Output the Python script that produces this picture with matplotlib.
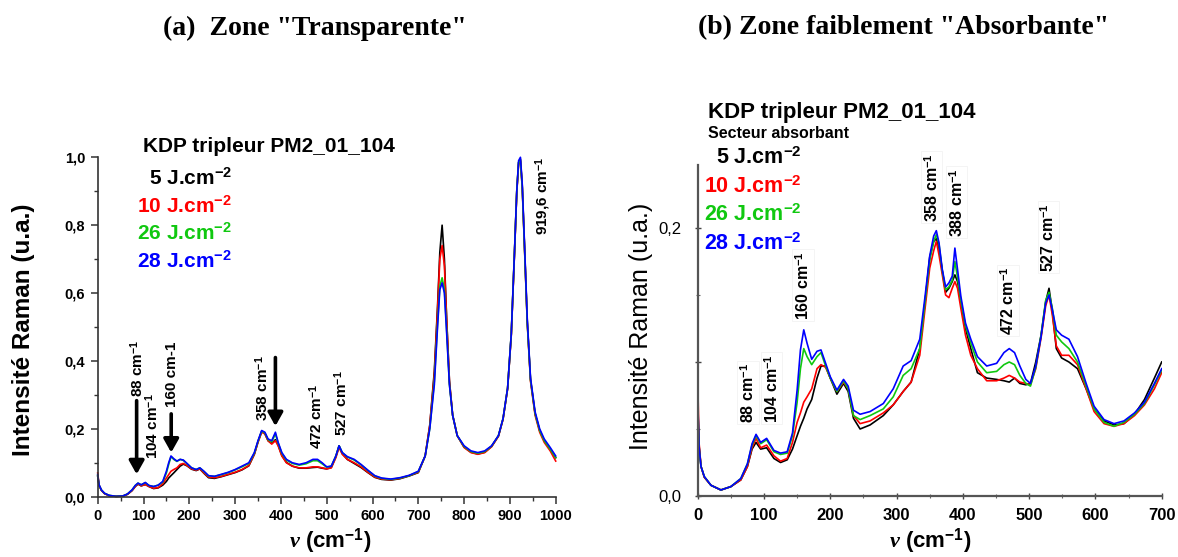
import matplotlib
matplotlib.use("Agg")
import matplotlib.pyplot as plt
from matplotlib.ticker import MultipleLocator, FuncFormatter, FixedLocator, FixedFormatter

plt.rcParams['font.family'] = ['Liberation Sans', 'DejaVu Sans']
plt.rcParams['mathtext.fontset'] = 'custom'
plt.rcParams['mathtext.rm'] = 'Liberation Sans'
plt.rcParams['mathtext.it'] = 'Liberation Serif:italic:bold'
plt.rcParams['mathtext.bf'] = 'Liberation Sans:bold'

# ---------------- data: panel (a) ----------------
xL = [0, 3, 8, 15, 25, 40, 55, 65, 75, 82, 88, 95, 104, 112, 122, 132, 142, 150, 155, 160,
      166, 173, 180, 187, 195, 205, 215, 223, 232, 242, 255, 270, 285, 300, 315, 330, 342, 350, 358, 365,
      372, 380, 388, 394, 402, 412, 425, 440, 455, 470, 480, 490, 500, 510, 520, 527, 534, 545, 560, 575,
      590, 605, 620, 640, 660, 680, 700, 715, 725, 735, 742, 747, 752, 757, 762, 768, 775, 785, 800, 815,
      830, 845, 860, 875, 885, 895, 903, 910, 915, 919, 923, 927, 932, 938, 945, 955, 965, 975, 988, 1000]

blueL = [0.065, 0.035, 0.02, 0.01, 0.004, 0.001, 0.002, 0.008, 0.02, 0.033, 0.04, 0.035, 0.042, 0.033, 0.03, 0.034, 0.045, 0.075, 0.1, 0.12,
         0.112, 0.105, 0.11, 0.108, 0.098, 0.085, 0.08, 0.085, 0.075, 0.062, 0.06, 0.066, 0.072, 0.08, 0.09, 0.1, 0.13, 0.165, 0.195, 0.19,
         0.17, 0.165, 0.19, 0.16, 0.13, 0.11, 0.1, 0.095, 0.1, 0.11, 0.11, 0.1, 0.088, 0.09, 0.12, 0.15, 0.13, 0.118, 0.11, 0.095,
         0.078, 0.062, 0.055, 0.052, 0.056, 0.063, 0.075, 0.12, 0.2, 0.33, 0.5, 0.61, 0.63, 0.6, 0.48, 0.33, 0.24, 0.18, 0.15, 0.135,
         0.13, 0.135, 0.15, 0.18, 0.23, 0.32, 0.48, 0.72, 0.9, 0.99, 1.0, 0.92, 0.74, 0.52, 0.35, 0.25, 0.2, 0.17, 0.145, 0.12]

greenL = [0.062, 0.034, 0.02, 0.01, 0.004, 0.001, 0.002, 0.008, 0.02, 0.033, 0.04, 0.035, 0.041, 0.033, 0.03, 0.034, 0.043, 0.07, 0.095, 0.118,
          0.11, 0.104, 0.11, 0.107, 0.097, 0.085, 0.08, 0.085, 0.074, 0.061, 0.06, 0.065, 0.071, 0.079, 0.088, 0.098, 0.128, 0.163, 0.193, 0.188,
          0.168, 0.162, 0.185, 0.158, 0.128, 0.108, 0.098, 0.093, 0.097, 0.106, 0.106, 0.097, 0.087, 0.09, 0.12, 0.15, 0.13, 0.117, 0.108, 0.094,
          0.077, 0.061, 0.054, 0.051, 0.055, 0.062, 0.074, 0.12, 0.2, 0.34, 0.51, 0.62, 0.645, 0.61, 0.49, 0.33, 0.24, 0.18, 0.148, 0.133,
          0.128, 0.133, 0.149, 0.18, 0.23, 0.32, 0.48, 0.72, 0.9, 0.985, 0.99, 0.91, 0.73, 0.51, 0.345, 0.245, 0.195, 0.165, 0.14, 0.115]

redL = [0.07, 0.034, 0.019, 0.009, 0.003, 0.001, 0.002, 0.007, 0.018, 0.03, 0.038, 0.032, 0.036, 0.03, 0.025, 0.027, 0.038, 0.055, 0.065, 0.075,
        0.08, 0.085, 0.095, 0.098, 0.092, 0.082, 0.078, 0.082, 0.07, 0.058, 0.056, 0.06, 0.066, 0.072, 0.08, 0.092, 0.125, 0.16, 0.19, 0.185,
        0.165, 0.155, 0.165, 0.15, 0.12, 0.1, 0.09, 0.085, 0.085, 0.088, 0.088, 0.085, 0.082, 0.085, 0.115, 0.145, 0.125, 0.11, 0.1, 0.088,
        0.072, 0.058, 0.052, 0.05, 0.054, 0.062, 0.072, 0.12, 0.21, 0.36, 0.55, 0.7, 0.74, 0.68, 0.52, 0.34, 0.24, 0.18, 0.145, 0.13,
        0.125, 0.13, 0.147, 0.178, 0.228, 0.318, 0.475, 0.715, 0.895, 0.98, 0.99, 0.91, 0.73, 0.51, 0.34, 0.24, 0.19, 0.16, 0.135, 0.105]

blackL = [0.06, 0.033, 0.019, 0.009, 0.003, 0.001, 0.002, 0.007, 0.018, 0.03, 0.037, 0.032, 0.036, 0.03, 0.024, 0.026, 0.034, 0.045, 0.055, 0.062,
          0.07, 0.08, 0.09, 0.096, 0.091, 0.081, 0.077, 0.082, 0.069, 0.056, 0.054, 0.059, 0.065, 0.071, 0.079, 0.091, 0.125, 0.162, 0.192, 0.186,
          0.165, 0.157, 0.168, 0.152, 0.122, 0.101, 0.09, 0.084, 0.084, 0.086, 0.087, 0.084, 0.082, 0.086, 0.118, 0.15, 0.127, 0.11, 0.098, 0.086,
          0.071, 0.057, 0.051, 0.049, 0.053, 0.061, 0.071, 0.12, 0.21, 0.37, 0.56, 0.72, 0.8, 0.7, 0.52, 0.34, 0.24, 0.18, 0.146, 0.131,
          0.126, 0.131, 0.148, 0.179, 0.229, 0.319, 0.478, 0.718, 0.9, 0.985, 0.995, 0.915, 0.735, 0.515, 0.345, 0.245, 0.195, 0.165, 0.14, 0.115]

# ---------------- data: panel (b) ----------------
xR = [0, 2, 5, 10, 20, 35, 50, 65, 75, 82, 88, 95, 104, 115, 125, 135, 143, 150, 155, 160,
      165, 172, 180, 186, 193, 200, 210, 220, 227, 235, 245, 260, 280, 295, 310, 322, 335, 343, 350, 356,
      360, 364, 369, 374, 379, 384, 388, 392, 397, 404, 412, 422, 436, 451, 462, 470, 478, 486, 495, 502,
      510, 518, 525, 530, 535, 541, 549, 560, 573, 586, 598, 613, 628, 643, 659, 674, 689, 700]

blueR = [0.074, 0.037, 0.022, 0.0145, 0.008, 0.0045, 0.007, 0.013, 0.024, 0.039, 0.046, 0.04, 0.043, 0.034, 0.032, 0.033, 0.047, 0.079, 0.109, 0.124,
         0.114, 0.102, 0.108, 0.109, 0.099, 0.089, 0.079, 0.087, 0.082, 0.064, 0.061, 0.063, 0.069, 0.08, 0.097, 0.101, 0.117, 0.149, 0.179, 0.194,
         0.198, 0.189, 0.169, 0.156, 0.159, 0.164, 0.185, 0.169, 0.149, 0.129, 0.117, 0.104, 0.097, 0.099, 0.107, 0.11, 0.107, 0.097, 0.087, 0.084,
         0.097, 0.119, 0.144, 0.15, 0.139, 0.124, 0.12, 0.117, 0.104, 0.084, 0.067, 0.057, 0.054, 0.056, 0.062, 0.07, 0.084, 0.095]

greenR = [0.068, 0.036, 0.022, 0.0145, 0.008, 0.0045, 0.007, 0.013, 0.024, 0.038, 0.045, 0.039, 0.042, 0.033, 0.031, 0.032, 0.045, 0.07, 0.095, 0.11,
          0.104, 0.098, 0.104, 0.107, 0.097, 0.088, 0.078, 0.086, 0.08, 0.06, 0.057, 0.06, 0.065, 0.074, 0.09, 0.095, 0.11, 0.145, 0.176, 0.19,
          0.195, 0.188, 0.168, 0.154, 0.156, 0.161, 0.175, 0.163, 0.146, 0.127, 0.114, 0.1, 0.092, 0.093, 0.098, 0.1, 0.098, 0.09, 0.084, 0.082,
          0.096, 0.12, 0.146, 0.152, 0.14, 0.12, 0.115, 0.11, 0.1, 0.082, 0.065, 0.055, 0.052, 0.055, 0.061, 0.069, 0.083, 0.094]

redR = [0.088, 0.04, 0.022, 0.014, 0.008, 0.0045, 0.007, 0.012, 0.022, 0.036, 0.043, 0.036, 0.038, 0.03, 0.026, 0.028, 0.04, 0.055, 0.062, 0.07,
        0.074, 0.08, 0.095, 0.098, 0.096, 0.088, 0.078, 0.085, 0.08, 0.06, 0.054, 0.056, 0.062, 0.068, 0.078, 0.085, 0.105, 0.14, 0.17, 0.183,
        0.19, 0.18, 0.165, 0.15, 0.148, 0.155, 0.16, 0.155, 0.14, 0.12, 0.105, 0.095, 0.086, 0.086, 0.088, 0.09, 0.088, 0.085, 0.084, 0.083,
        0.095, 0.118, 0.142, 0.15, 0.135, 0.112, 0.105, 0.105, 0.098, 0.08, 0.063, 0.054, 0.052, 0.054, 0.06, 0.068, 0.08, 0.092]

blackR = [0.07, 0.038, 0.022, 0.014, 0.008, 0.0045, 0.007, 0.012, 0.022, 0.035, 0.04, 0.035, 0.036, 0.028, 0.025, 0.027, 0.035, 0.045, 0.052, 0.058,
          0.065, 0.072, 0.088, 0.097, 0.097, 0.088, 0.076, 0.084, 0.078, 0.058, 0.05, 0.053, 0.06, 0.068, 0.078, 0.085, 0.11, 0.145, 0.178, 0.19,
          0.192, 0.185, 0.168, 0.152, 0.155, 0.16, 0.165, 0.16, 0.145, 0.125, 0.11, 0.092, 0.088, 0.087, 0.086, 0.085, 0.088, 0.084, 0.083, 0.084,
          0.1, 0.12, 0.145, 0.155, 0.138, 0.11, 0.103, 0.1, 0.095, 0.08, 0.065, 0.056, 0.053, 0.054, 0.061, 0.072, 0.088, 0.1]

series_labels = ["5 J.cm$^{\\mathregular{-2}}$", "10 J.cm$^{\\mathregular{-2}}$",
                 "26 J.cm$^{\\mathregular{-2}}$", "28 J.cm$^{\\mathregular{-2}}$"]
colors = ["#000000", "#ff0000", "#10c810", "#0000ff"]

annotL = [(85, 0.293, "88 cm$^{\\mathregular{-1}}$"), (118, 0.112, "104 cm$^{\\mathregular{-1}}$"),
          (162, 0.263, "160 cm-1"), (359, 0.224, "358 cm$^{\\mathregular{-1}}$"),
          (476, 0.141, "472 cm$^{\\mathregular{-1}}$"), (531, 0.18, "527 cm$^{\\mathregular{-1}}$"),
          (973, 0.771, "919,6 cm$^{\\mathregular{-1}}$")]
arrowsL = [(85, 0.283, 0.066), (160.5, 0.244, 0.13), (388, 0.41, 0.208)]
annotR = [(76, 0.0546, "88 cm$^{\\mathregular{-1}}$"), (111.6, 0.0546, "104 cm$^{\\mathregular{-1}}$"),
          (159, 0.1315, "160 cm$^{\\mathregular{-1}}$"), (353, 0.2048, "358 cm$^{\\mathregular{-1}}$"),
          (390.6, 0.1936, "388 cm$^{\\mathregular{-1}}$"), (468, 0.1203, "472 cm$^{\\mathregular{-1}}$"),
          (529, 0.1674, "527 cm$^{\\mathregular{-1}}$")]

W, H = 1178, 557
fig = plt.figure(figsize=(W / 100, H / 100), dpi=100)

def fx(px):
    return px / W

def fy(py):
    return 1 - py / H

comma = FuncFormatter(lambda v, p: f"{v:.1f}".replace('.', ','))

# ---------------- panel (a) ----------------
axL = fig.add_axes([fx(97.7), fy(496.7), fx(555.7) - fx(97.7), fy(157.3) - fy(496.7)])
for ys, c in zip([blackL, redL, greenL, blueL], colors):
    axL.plot(xL, ys, color=c, lw=1.2, clip_on=False)
axL.set_xlim(0, 1000)
axL.set_ylim(0, 1.0)
for s in ['top', 'right']:
    axL.spines[s].set_visible(False)
for s in ['left', 'bottom']:
    axL.spines[s].set_color('#333333')
    axL.spines[s].set_linewidth(1.2)
axL.xaxis.set_major_locator(MultipleLocator(100))
axL.xaxis.set_minor_locator(MultipleLocator(50))
axL.yaxis.set_major_locator(MultipleLocator(0.2))
axL.yaxis.set_minor_locator(MultipleLocator(0.1))
axL.yaxis.set_major_formatter(comma)
axL.tick_params(which='major', direction='out', length=5, width=1.1, pad=4, labelsize=10.5, color='#333333')
axL.tick_params(which='minor', direction='out', length=3, width=1.0, color='#333333')
for t in axL.get_xticklabels() + axL.get_yticklabels():
    t.set_fontweight('bold')
fig.text(fx(24), fy(330), "Intensité Raman (u.a.)", rotation=90, ha='center', va='center',
         fontsize=17.5, fontweight='bold')
fig.text(fx(330), fy(541), "$\\mathit{\\nu}$ (cm$^{\\mathregular{-1}}$)", ha='center', va='center',
         fontsize=16, fontweight='bold')

for x, y, s in annotL:
    axL.text(x, y, s, rotation=90, ha='center', va='bottom', fontsize=11, fontweight='bold')
for x, y0, y1 in arrowsL:
    axL.annotate("", xy=(x, y1), xytext=(x, y0),
                 arrowprops=dict(arrowstyle='-|>,head_length=0.8,head_width=0.45', lw=2.6, color='black',
                                 shrinkA=0, shrinkB=0))

fig.text(fx(143), fy(152), "KDP tripleur PM2_01_104", ha='left', va='baseline', fontsize=15, fontweight='bold')
for i, (lab, c) in enumerate(zip(series_labels, colors)):
    fig.text(fx(232), fy(185 + 27.5 * i), lab, ha='right', va='baseline', fontsize=15,
             fontweight='bold', color=c)

# ---------------- panel (b) ----------------
axR = fig.add_axes([fx(697.7), fy(496), fx(1161.7) - fx(697.7), fy(165) - fy(496)])
for ys, c in zip([blackR, redR, greenR, blueR], colors):
    axR.plot(xR, ys, color=c, lw=1.2)
axR.set_xlim(0, 700)
axR.set_ylim(0, 0.247)
for s in ['top', 'right']:
    axR.spines[s].set_visible(False)
for s in ['left', 'bottom']:
    axR.spines[s].set_color('#555555')
    axR.spines[s].set_linewidth(1.6)
axR.xaxis.set_major_locator(MultipleLocator(100))
axR.xaxis.set_minor_locator(MultipleLocator(50))
axR.yaxis.set_major_locator(FixedLocator([0.0, 0.1, 0.2]))
axR.yaxis.set_major_formatter(FixedFormatter(["0,0", "", "0,2"]))
axR.yaxis.set_minor_locator(MultipleLocator(0.05))
axR.tick_params(which='major', direction='inout', length=5, width=1.0, color='#444444')
axR.tick_params(which='minor', direction='inout', length=3, width=0.8, color='#666666')
axR.tick_params(axis='x', labelsize=12, pad=6)
axR.tick_params(axis='y', labelsize=12, pad=9)
for t in axR.get_xticklabels():
    t.set_fontweight('bold')
fig.text(fx(641), fy(326), "Intensité Raman (u.a.)", rotation=90, ha='center', va='center', fontsize=18)
fig.text(fx(930), fy(541), "$\\mathit{\\nu}$ (cm$^{\\mathregular{-1}}$)", ha='center', va='center',
         fontsize=16, fontweight='bold')

for x, y, s in annotR:
    axR.text(x, y, s, rotation=90, ha='center', va='bottom', fontsize=11.5, fontweight='bold',
             bbox=dict(boxstyle='square,pad=0.1', fc='white', ec='#f2f2f2', lw=0.6))

fig.text(fx(708), fy(118), "KDP tripleur PM2_01_104", ha='left', va='baseline', fontsize=16, fontweight='bold')
fig.text(fx(708), fy(138), "Secteur absorbant", ha='left', va='baseline', fontsize=11.5, fontweight='bold')
for i, (lab, c) in enumerate(zip(series_labels, colors)):
    fig.text(fx(802), fy(164 + 28.7 * i), lab, ha='right', va='baseline', fontsize=15.5,
             fontweight='bold', color=c)

# ---------------- titles ----------------
fig.text(fx(315), fy(28), '(a)  Zone "Transparente"', ha='center', va='center',
         fontsize=20, fontweight='bold', family='Liberation Serif')
fig.text(fx(904), fy(28), '(b) Zone faiblement "Absorbante"', ha='center', va='center',
         fontsize=20, fontweight='bold', family='Liberation Serif')

fig.savefig("out.png", dpi=100)
